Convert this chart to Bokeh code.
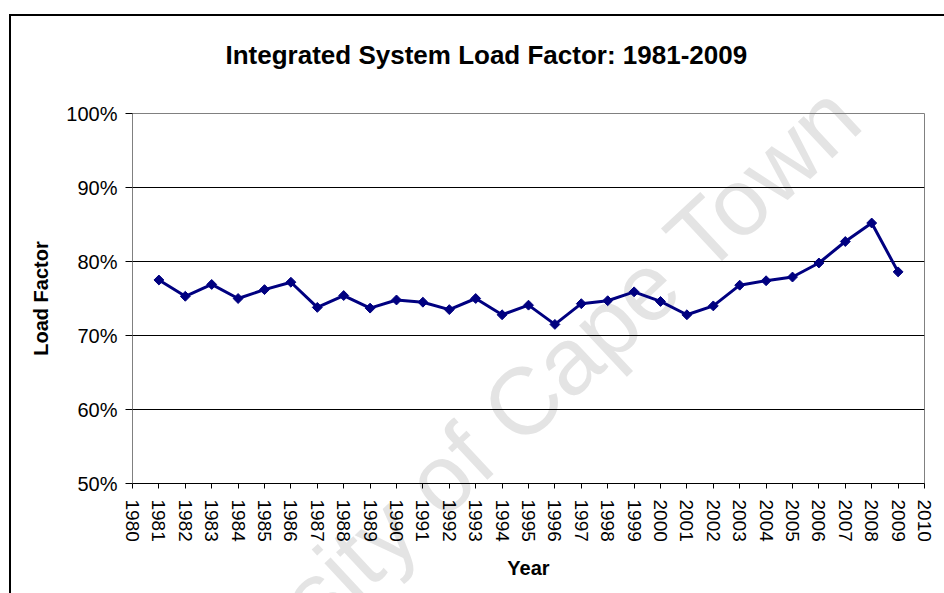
import math
from bokeh.plotting import figure
from bokeh.layouts import column
from bokeh.models import FixedTicker, PrintfTickFormatter, Label, Range1d
from bokeh.embed import file_html
from bokeh.resources import INLINE

# ---- data ----
years = list(range(1981, 2010))
load_factor = [77.5, 75.3, 76.9, 75.0, 76.2, 77.2, 73.8, 75.4, 73.7, 74.8,
               74.5, 73.5, 75.0, 72.8, 74.1, 71.5, 74.3, 74.7, 75.9, 74.6,
               72.8, 74.0, 76.8, 77.4, 77.9, 79.8, 82.7, 85.2, 78.6]
x_ticks = list(range(1980, 2011))
y_ticks = [50, 60, 70, 80, 90, 100]
grid_ticks = [60, 70, 80, 90]
title_text = "Integrated System Load Factor: 1981-2009"
x_label = "Year"
y_label = "Load Factor"
watermark = "University of Cape Town"

FONT = "Liberation Sans"
NAVY = "#000080"
W, H = 944, 593

# ---- background layer: page border, title, watermark (behind the chart) ----
bg = figure(width=W, height=H, output_backend="svg", toolbar_location=None,
            x_axis_type=None, y_axis_type=None, min_border=0,
            x_range=Range1d(0, 1), y_range=Range1d(0, 1))
bg.title.visible = False
bg.outline_line_color = None
bg.background_fill_alpha = 0
bg.border_fill_alpha = 0
bg.styles = {
    "position": "absolute", "top": "0px", "left": "0px",
    "background-color": "white",
    "background-image": "linear-gradient(#000, #000), linear-gradient(#000, #000)",
    "background-position": "9px 14px, 9px 14px",
    "background-size": "2px 1200px, 1200px 2px",
    "background-repeat": "no-repeat",
}
bg.add_layout(Label(x=470, y=450, x_units="canvas", y_units="canvas", text=watermark,
                    angle=math.radians(43), text_align="center", text_baseline="alphabetic",
                    text_font=FONT, text_font_size="95px", text_color="#e4e4e4"))
bg.add_layout(Label(x=225, y=54, x_units="canvas", y_units="canvas", text=title_text,
                    text_align="left", text_baseline="alphabetic",
                    text_font=FONT, text_font_size="26px", text_font_style="bold",
                    text_color="black"))

# ---- chart ----
p = figure(width=W, height=H, output_backend="svg", toolbar_location=None,
           x_range=Range1d(1980, 2010), y_range=Range1d(50, 100),
           min_border_left=132, min_border_right=20,
           min_border_top=113, min_border_bottom=110)
p.title.visible = False
p.background_fill_alpha = 0
p.border_fill_alpha = 0
p.outline_line_color = "#808080"
p.outline_line_width = 1

# grid
p.xgrid.visible = False
p.ygrid.ticker = FixedTicker(ticks=grid_ticks)
p.ygrid.grid_line_color = "black"
p.ygrid.grid_line_width = 1

# x axis
xa = p.xaxis[0]
xa.ticker = FixedTicker(ticks=x_ticks)
xa.major_label_orientation = "vertical"
xa.major_label_text_font = FONT
xa.major_label_text_font_size = "19px"
xa.major_label_text_color = "black"
xa.major_label_standoff = 11
xa.major_tick_in = 0
xa.major_tick_out = 5
xa.minor_tick_line_color = None
xa.axis_line_color = "black"
xa.major_tick_line_color = "black"
xa.axis_label = x_label
xa.axis_label_text_font = FONT
xa.axis_label_text_font_size = "20px"
xa.axis_label_text_font_style = "bold"
xa.axis_label_text_color = "black"
xa.axis_label_standoff = 12

# y axis
ya = p.yaxis[0]
ya.ticker = FixedTicker(ticks=y_ticks)
ya.formatter = PrintfTickFormatter(format="%d%%")
ya.major_label_text_font = FONT
ya.major_label_text_font_size = "20px"
ya.major_label_text_color = "black"
ya.major_label_standoff = 8
ya.major_tick_in = 0
ya.major_tick_out = 7
ya.minor_tick_line_color = None
ya.axis_line_color = "#808080"
ya.major_tick_line_color = "black"
ya.axis_label = y_label
ya.axis_label_text_font = FONT
ya.axis_label_text_font_size = "20px"
ya.axis_label_text_font_style = "bold"
ya.axis_label_text_color = "black"
ya.axis_label_standoff = 11

# data
p.line(years, load_factor, line_color=NAVY, line_width=3)
p.scatter(years, load_factor, marker="square", size=7, angle=math.pi / 4,
          fill_color=NAVY, line_color=NAVY, line_width=1)

layout = column(bg, p)
open("out.html", "w").write(file_html(layout, INLINE))
